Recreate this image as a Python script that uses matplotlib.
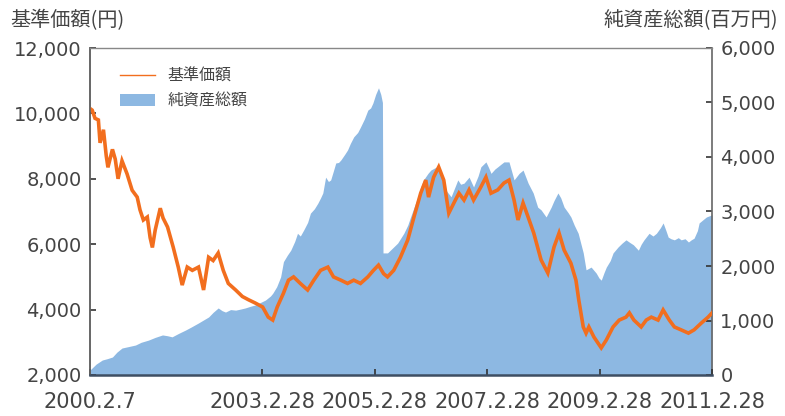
import datetime as dt
import matplotlib
matplotlib.use("Agg")
import matplotlib.pyplot as plt
from matplotlib.lines import Line2D
from matplotlib.patches import Patch
from matplotlib.ticker import FuncFormatter, FixedLocator

plt.rcParams['font.family'] = ['DejaVu Sans', 'Noto Sans CJK JP']

# 基準価額 (円) — decimal years / values
price_t = [2000.10, 2000.14, 2000.19, 2000.25, 2000.28, 2000.34, 2000.39, 2000.42, 2000.50, 2000.55,
           2000.60, 2000.67, 2000.76, 2000.85, 2000.94, 2000.99, 2001.05, 2001.12, 2001.17, 2001.21,
           2001.26, 2001.35, 2001.40, 2001.48, 2001.58, 2001.67, 2001.74, 2001.83, 2001.92, 2002.03,
           2002.12, 2002.21, 2002.29, 2002.38, 2002.47, 2002.56, 2002.69, 2002.81, 2002.92, 2003.04,
           2003.17, 2003.27, 2003.35, 2003.43, 2003.54, 2003.63, 2003.72, 2003.84, 2003.97, 2004.08,
           2004.20, 2004.33, 2004.43, 2004.56, 2004.68, 2004.79, 2004.91, 2005.04, 2005.14, 2005.23,
           2005.32, 2005.39, 2005.50, 2005.62, 2005.75, 2005.86, 2005.98, 2006.07, 2006.12, 2006.21,
           2006.30, 2006.39, 2006.48, 2006.57, 2006.66, 2006.75, 2006.84, 2006.92, 2007.05, 2007.14,
           2007.23, 2007.35, 2007.46, 2007.55, 2007.64, 2007.71, 2007.80, 2007.89, 2007.99, 2008.12,
           2008.24, 2008.35, 2008.44, 2008.53, 2008.65, 2008.74, 2008.79, 2008.87, 2008.92, 2008.97,
           2009.06, 2009.19, 2009.28, 2009.40, 2009.51, 2009.63, 2009.69, 2009.77, 2009.90, 2009.99,
           2010.08, 2010.20, 2010.29, 2010.40, 2010.49, 2010.61, 2010.74, 2010.84, 2010.97, 2011.09,
           2011.16]
price_v = [10150, 10100, 9850, 9800, 9100, 9500, 8700, 8350, 8900, 8600,
           8000, 8550, 8150, 7650, 7440, 7050, 6740, 6830, 6200, 5900,
           6430, 7100, 6800, 6525, 5910, 5300, 4750, 5300, 5200, 5300,
           4600, 5600, 5500, 5730, 5200, 4800, 4600, 4400, 4300, 4200,
           4080, 3770, 3680, 4080, 4500, 4900, 5000, 4800, 4600, 4900,
           5200, 5300, 5000, 4900, 4800, 4900, 4800, 5000, 5200, 5360,
           5100, 5000, 5200, 5600, 6130, 6830, 7560, 7960, 7440, 8050,
           8360, 7960, 6950, 7260, 7560, 7350, 7660, 7350, 7750, 8050,
           7560, 7660, 7870, 7960, 7350, 6740, 7260, 6830, 6340, 5520,
           5120, 5910, 6340, 5820, 5420, 4900, 4300, 3470, 3280, 3470,
           3160, 2830, 3070, 3470, 3680, 3770, 3900, 3680, 3470, 3680,
           3770, 3680, 3990, 3680, 3470, 3380, 3280, 3380, 3590, 3770,
           3900]

# 純資産総額 (百万円)
nav_t = [2000.10, 2000.21, 2000.32, 2000.41, 2000.50, 2000.58, 2000.67, 2000.78, 2000.91, 2001.01,
         2001.14, 2001.26, 2001.39, 2001.48, 2001.56, 2001.67, 2001.80, 2001.90, 2002.03, 2002.12,
         2002.21, 2002.29, 2002.38, 2002.45, 2002.51, 2002.60, 2002.69, 2002.78, 2002.86, 2002.95,
         2003.04, 2003.13, 2003.22, 2003.31, 2003.35, 2003.42, 2003.49, 2003.54, 2003.61, 2003.67,
         2003.74, 2003.79, 2003.84, 2003.90, 2003.97, 2004.02, 2004.09, 2004.15, 2004.20, 2004.24,
         2004.29, 2004.34, 2004.38, 2004.43, 2004.47, 2004.52, 2004.56, 2004.63, 2004.68, 2004.73,
         2004.79, 2004.86, 2004.91, 2004.98, 2005.04, 2005.09, 2005.13, 2005.18, 2005.23, 2005.27,
         2005.30, 2005.31, 2005.39, 2005.48, 2005.57, 2005.68, 2005.75, 2005.80, 2005.87, 2005.93,
         2005.98, 2006.03, 2006.11, 2006.16, 2006.23, 2006.28, 2006.34, 2006.39, 2006.46, 2006.52,
         2006.59, 2006.64, 2006.69, 2006.75, 2006.84, 2006.92, 2007.00, 2007.05, 2007.14, 2007.19,
         2007.23, 2007.30, 2007.35, 2007.41, 2007.46, 2007.55, 2007.64, 2007.73, 2007.80, 2007.89,
         2007.98, 2008.06, 2008.12, 2008.21, 2008.30, 2008.35, 2008.42, 2008.47, 2008.53, 2008.60,
         2008.65, 2008.71, 2008.78, 2008.83, 2008.87, 2008.92, 2009.01, 2009.10, 2009.15, 2009.19,
         2009.24, 2009.28, 2009.35, 2009.40, 2009.49, 2009.56, 2009.63, 2009.70, 2009.76, 2009.85,
         2009.90, 2009.95, 2010.04, 2010.11, 2010.17, 2010.24, 2010.29, 2010.34, 2010.38, 2010.43,
         2010.49, 2010.56, 2010.61, 2010.68, 2010.74, 2010.79, 2010.84, 2010.90, 2010.93, 2011.00,
         2011.06, 2011.16]
nav_v = [90, 200, 275, 300, 330, 420, 495, 520, 550, 600,
         640, 690, 735, 720, 700, 760, 825, 880, 955, 1010,
         1065, 1150, 1230, 1180, 1155, 1200, 1190, 1210, 1230, 1260,
         1285, 1330, 1375, 1450, 1500, 1620, 1800, 2080, 2200, 2290,
         2450, 2600, 2550, 2660, 2800, 2970, 3050, 3150, 3250, 3340,
         3630, 3550, 3580, 3750, 3890, 3900, 3945, 4050, 4130, 4250,
         4370, 4450, 4550, 4700, 4860, 4900, 4990, 5150, 5270, 5150,
         5000, 2240, 2240, 2330, 2420, 2600, 2750, 2900, 3100, 3270,
         3450, 3580, 3700, 3760, 3800, 3820, 3650, 3450, 3350, 3270,
         3450, 3580, 3500, 3520, 3630, 3450, 3650, 3820, 3910, 3800,
         3700, 3780, 3820, 3870, 3910, 3910, 3580, 3700, 3760, 3520,
         3340, 3080, 3030, 2900, 3080, 3200, 3340, 3250, 3080, 2980,
         2900, 2750, 2600, 2400, 2240, 1930, 1980, 1870, 1780, 1740,
         1880, 1980, 2100, 2240, 2350, 2420, 2480, 2430, 2390, 2290,
         2400, 2480, 2600, 2550, 2600, 2700, 2790, 2650, 2530, 2500,
         2480, 2520, 2480, 2500, 2440, 2480, 2510, 2650, 2790, 2850,
         2900, 2940]

x_tick_dates = ["2000-02-07", "2003-02-28", "2005-02-28", "2007-02-28", "2009-02-28", "2011-02-28"]
x_tick_labels = ["2000.2.7", "2003.2.28", "2005.2.28", "2007.2.28", "2009.2.28", "2011.2.28"]
left_ticks = [2000, 4000, 6000, 8000, 10000, 12000]
right_ticks = [0, 1000, 2000, 3000, 4000, 5000, 6000]


def dec_year(s):
    d = dt.date.fromisoformat(s)
    start = dt.date(d.year, 1, 1)
    n = (dt.date(d.year + 1, 1, 1) - start).days
    return d.year + (d - start).days / n


x_ticks = [dec_year(s) for s in x_tick_dates]

ORANGE = '#F26E1E'
BLUE = '#8DB8E2'
TXT = '#444444'
CJK = ['Noto Sans CJK JP', 'DejaVu Sans']

fig = plt.figure(figsize=(7.85, 4.16), dpi=100)
ax = fig.add_axes([90 / 785, 1 - 375 / 416, 622 / 785, 327 / 416])
ax2 = ax.twinx()

ax2.fill_between(nav_t, 0, nav_v, color=BLUE, linewidth=0)
ax.plot(price_t, price_v, color=ORANGE, linewidth=2.6, solid_joinstyle='miter')

ax.set_zorder(ax2.get_zorder() + 1)
ax.patch.set_visible(False)

ax.set_xlim(x_ticks[0], x_ticks[-1])
ax.set_ylim(2000, 12000)
ax2.set_ylim(0, 6000)

fmt = FuncFormatter(lambda v, p: f"{int(v):,}")
ax.yaxis.set_major_locator(FixedLocator(left_ticks))
ax.yaxis.set_major_formatter(fmt)
ax2.yaxis.set_major_locator(FixedLocator(right_ticks))
ax2.yaxis.set_major_formatter(fmt)
ax.set_xticks(x_ticks)
ax.set_xticklabels(x_tick_labels)

for a in (ax, ax2):
    a.tick_params(axis='both', direction='in', length=4, width=1.2, colors='#333333',
                  labelsize=14, labelcolor=TXT, pad=6)
    for side, sp in a.spines.items():
        sp.set_color('#666666')
        sp.set_linewidth(1.2)
ax.spines['bottom'].set_color('#3E4E63')
ax.spines['bottom'].set_linewidth(1.8)
ax.spines['top'].set_color('#888888')
ax.spines['top'].set_linewidth(1.0)
ax2.spines['bottom'].set_visible(False)
ax2.spines['top'].set_visible(False)
ax.spines['right'].set_visible(False)
ax.tick_params(axis='x', pad=12, labelsize=15)

fig.text(10 / 785, 1 - 21 / 416, "基準価額(円)", ha='left', va='center', fontsize=14.5,
         color=TXT, family=CJK)
fig.text(778 / 785, 1 - 21 / 416, "純資産総額(百万円)", ha='right', va='center', fontsize=14.5,
         color=TXT, family=CJK)

handles = [Line2D([0], [0], color=ORANGE, linewidth=1.0),
           Patch(facecolor=BLUE, edgecolor='none')]
leg = ax.legend(handles, ["基準価額", "純資産総額"], loc='upper left',
                bbox_to_anchor=(30 / 622, (375 - 68) / 327), borderaxespad=0, borderpad=0,
                frameon=False, handlelength=2.2, handleheight=0.8, handletextpad=0.8,
                labelspacing=0.45, prop={'family': CJK, 'size': 11.5})
for t in leg.get_texts():
    t.set_color(TXT)

fig.savefig("out.png", dpi=100)
